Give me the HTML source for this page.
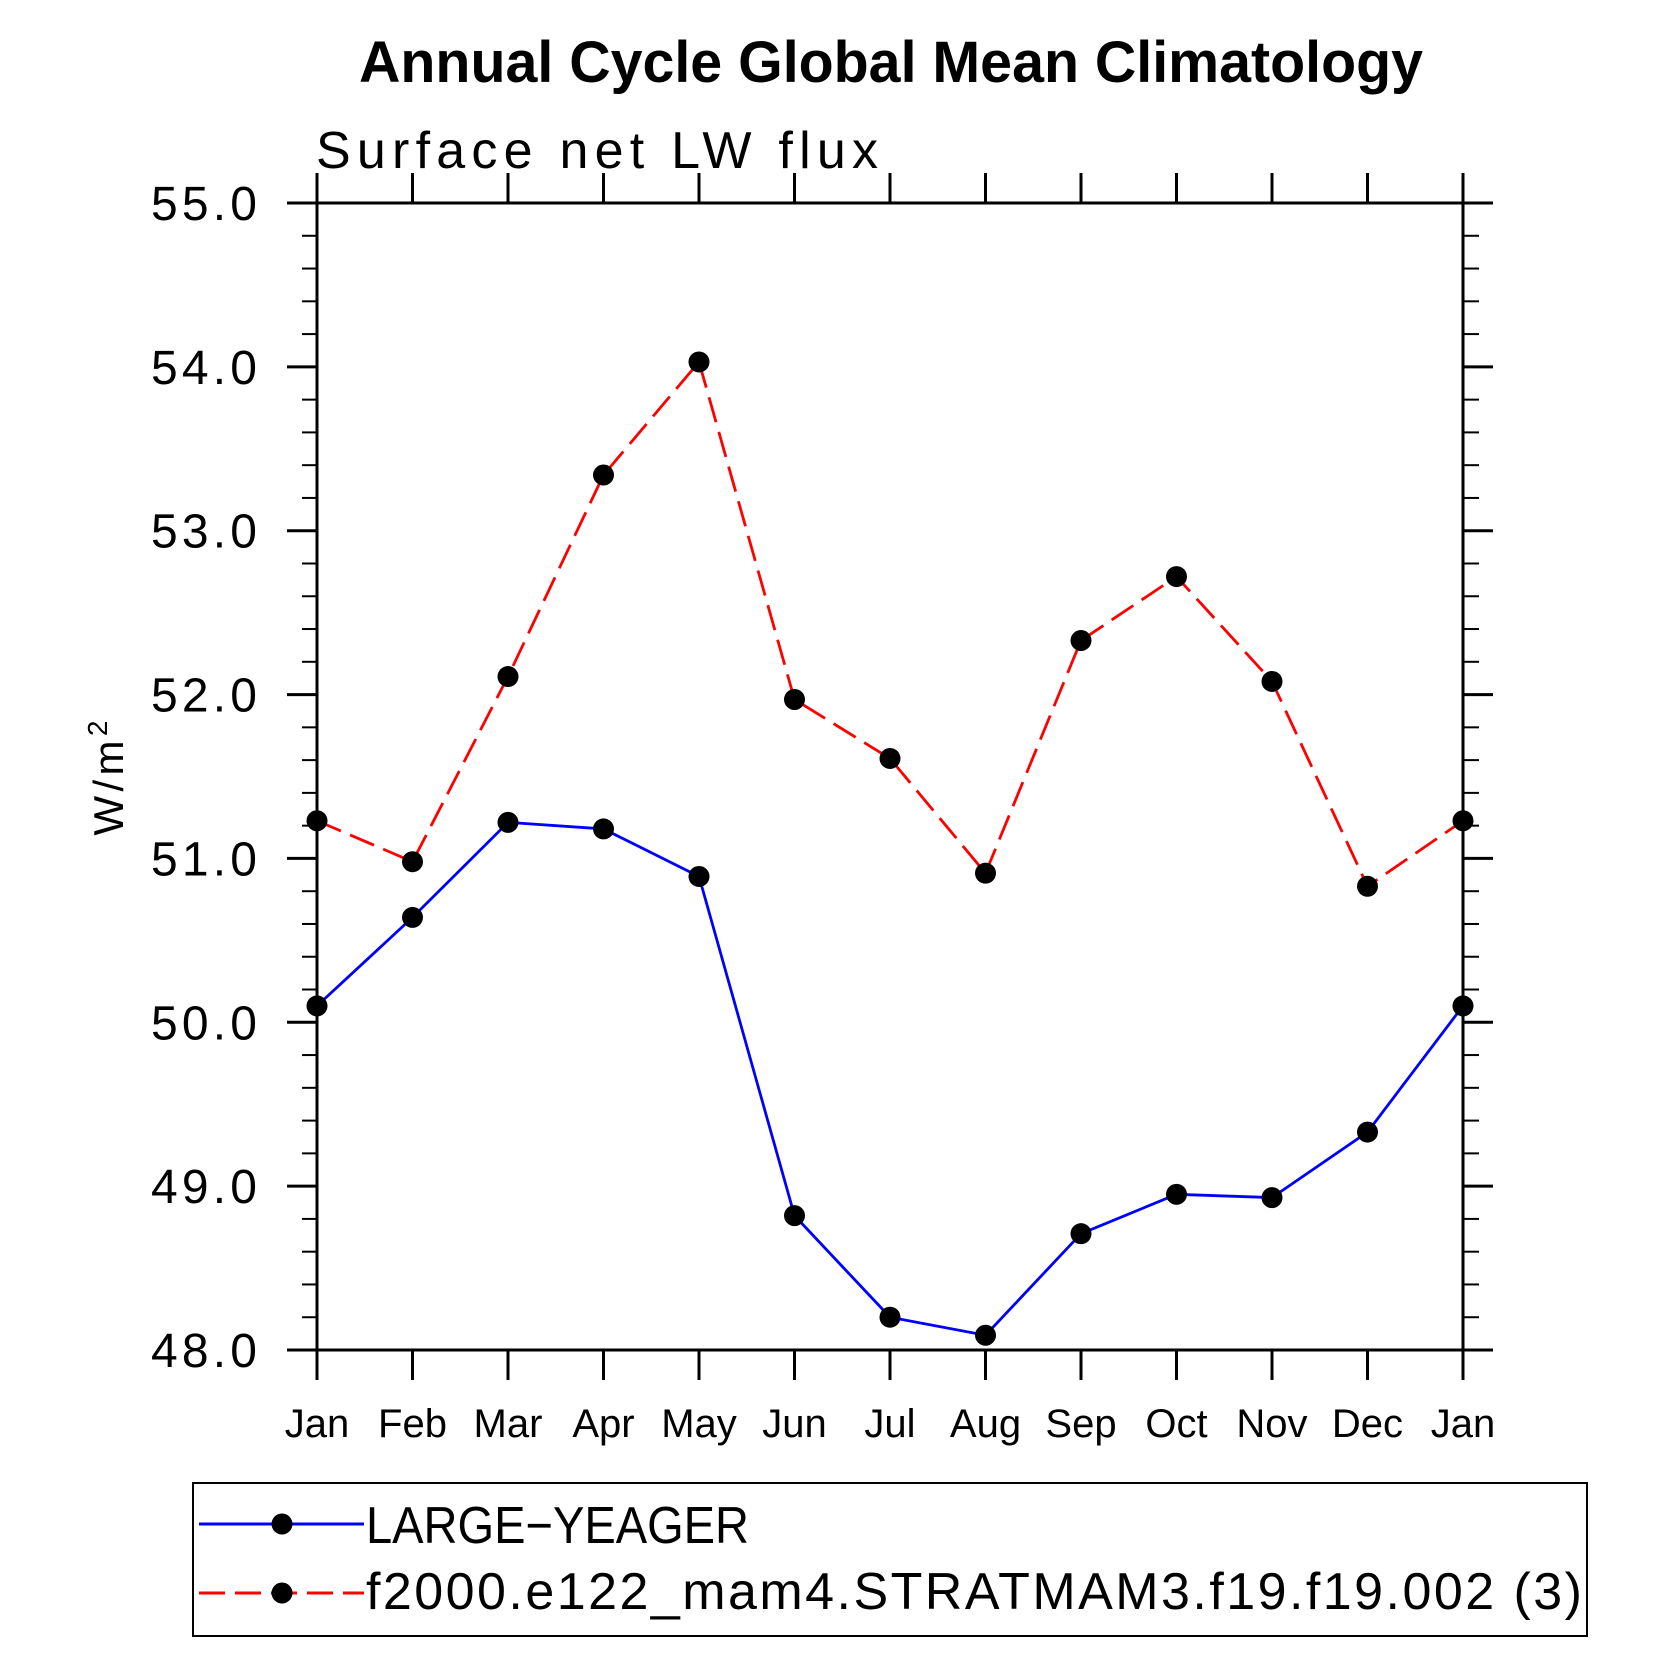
<!DOCTYPE html>
<html><head><meta charset="utf-8"><style>html,body{margin:0;padding:0;background:#fff}svg{display:block}</style></head>
<body>
<svg id="chart" width="1674" height="1674" viewBox="0 0 1674 1674" xmlns="http://www.w3.org/2000/svg" font-family="Liberation Sans, sans-serif">
<rect width="1674" height="1674" fill="#fff"/>
<text x="359" y="82" font-size="58" font-weight="bold" textLength="1064" lengthAdjust="spacingAndGlyphs">Annual Cycle Global Mean Climatology</text>
<text x="316" y="168" font-size="52" textLength="562" lengthAdjust="spacing">Surface net LW flux</text>
<text transform="translate(123,778) rotate(-90)" text-anchor="middle" font-size="42" textLength="115" lengthAdjust="spacing">W/m<tspan dy="-16" font-size="28">2</tspan></text>
<g id="axes"></g>
<g id="series"></g>
<g>
<rect x="193" y="1483" width="1394" height="153" fill="none" stroke="#000" stroke-width="2"/>
<line x1="199" y1="1524" x2="364" y2="1524" stroke="#0000ff" stroke-width="3"/>
<circle cx="282" cy="1524" r="10.5"/>
<text x="366" y="1543" font-size="52" textLength="383" lengthAdjust="spacingAndGlyphs">LARGE−YEAGER</text>
<line x1="199" y1="1593" x2="364" y2="1593" stroke="#ff0000" stroke-width="3" stroke-dasharray="26,10"/>
<circle cx="282" cy="1593" r="10.5"/>
<text x="366" y="1609" font-size="52" textLength="1216" lengthAdjust="spacing">f2000.e122_mam4.STRATMAM3.f19.f19.002 (3)</text>
</g>
</svg>
<script>
const months = ["Jan","Feb","Mar","Apr","May","Jun","Jul","Aug","Sep","Oct","Nov","Dec","Jan"];
const largeYeager = [50.10,50.64,51.22,51.18,50.89,48.82,48.20,48.09,48.71,48.95,48.93,49.33,50.10];
const f2000 = [51.23,50.98,52.11,53.34,54.03,51.97,51.61,50.91,52.33,52.72,52.08,50.83,51.23];
const yTicks = [48,49,50,51,52,53,54,55];
const yTickLabels = ["48.0","49.0","50.0","51.0","52.0","53.0","54.0","55.0"];

const L=317,R=1463,T=203,B=1350,YMIN=48,YMAX=55;
const NS='http://www.w3.org/2000/svg';
function xs(i){return L+(R-L)*i/(months.length-1);}
function ys(v){return B-(v-YMIN)/(YMAX-YMIN)*(B-T);}
function mk(tag,attrs,parent){const e=document.createElementNS(NS,tag);for(const k in attrs)e.setAttribute(k,attrs[k]);parent.appendChild(e);return e;}
const axes=document.getElementById('axes');
const frame=mk('rect',{x:L,y:T,width:R-L,height:B-T,fill:'none',stroke:'#000','stroke-width':3},axes);


yTicks.forEach((v,i)=>{
  const y=ys(v);
  mk('line',{x1:L-30,y1:y,x2:L,y2:y,stroke:'#000','stroke-width':3},axes);
  mk('line',{x1:R,y1:y,x2:R+30,y2:y,stroke:'#000','stroke-width':3},axes);
  const t=mk('text',{x:257,y:y+17,'font-size':48,'text-anchor':'end',textLength:106,lengthAdjust:'spacing'},axes);
  t.textContent=yTickLabels[i];
  
  
  if(i<yTicks.length-1){for(let k=1;k<5;k++){const yy=ys(v+k*0.2);
    mk('line',{x1:L-15,y1:yy,x2:L,y2:yy,stroke:'#000','stroke-width':2},axes);
    mk('line',{x1:R,y1:yy,x2:R+16,y2:yy,stroke:'#000','stroke-width':2},axes);}}
});
months.forEach((m,i)=>{
  const x=xs(i);
  mk('line',{x1:x,y1:B,x2:x,y2:B+30,stroke:'#000','stroke-width':3},axes);
  mk('line',{x1:x,y1:T-30,x2:x,y2:T,stroke:'#000','stroke-width':3},axes);
  const t=mk('text',{x:x,y:1437,'font-size':40,'text-anchor':'middle'},axes);
  t.textContent=m;
  
  
});
const sg=document.getElementById('series');
function draw(vals,color,dash,name){
  const p=mk('polyline',{points:vals.map((v,i)=>xs(i)+','+ys(v)).join(' '),fill:'none',stroke:color,'stroke-width':2.8},sg);
  if(dash)p.setAttribute('stroke-dasharray',dash);
  
  
  vals.forEach((v,i)=>{const c=mk('circle',{cx:xs(i),cy:ys(v),r:10.5,fill:'#000'},sg);
    
    });
}
draw(largeYeager,'#0000ff',null,'large-yeager');
draw(f2000,'#ff0000','26,10','f2000');
</script>
</body></html>
